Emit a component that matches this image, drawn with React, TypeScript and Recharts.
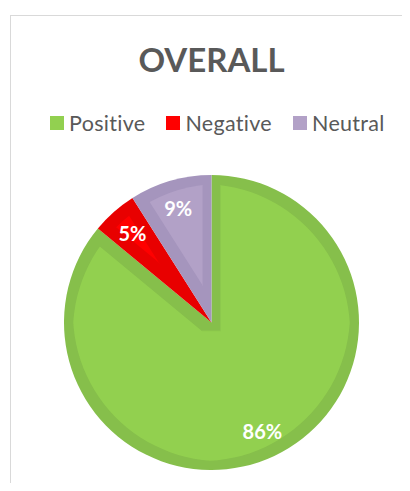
import React from "react";
import { PieChart, Pie, Cell } from "recharts";

const categories = ["Positive", "Negative", "Neutral"];
const values = [86, 5, 9];
const labels = ["86%", "5%", "9%"];
const fillColors = ["#92d050", "#ff0000", "#b2a1c7"];
const edgeColors = ["#86bf4c", "#e80000", "#a595bd"];
const title = "OVERALL";

const data = categories.map((name, i) => ({ name, value: values[i], label: labels[i] }));

const RAD = Math.PI / 180;
const FONT = "Lato, 'Noto Sans', sans-serif";

const renderLabel = (p: any) => {
  const r = p.outerRadius * 0.81;
  const x = p.cx + r * Math.cos(-p.midAngle * RAD);
  const y = p.cy + r * Math.sin(-p.midAngle * RAD);
  return (
    <text
      x={x}
      y={y}
      fill="#ffffff"
      textAnchor="middle"
      dominantBaseline="central"
      fontFamily={FONT}
      fontWeight={700}
      fontSize={20}
    >
      {p.payload.label}
    </text>
  );
};

export default function App() {
  return (
    <div style={{ position: "relative", width: 394, height: 475, overflow: "hidden" }}>
      <svg width={0} height={0} style={{ position: "absolute" }}>
        <defs>
          {fillColors.map((c, i) => (
            <filter key={i} id={`inner${i}`} x="-10%" y="-10%" width="120%" height="120%">
              <feMorphology in="SourceAlpha" operator="erode" radius={9} result="er" />
              <feFlood floodColor={c} result="fl" />
              <feComposite in="fl" in2="er" operator="in" result="inner" />
              <feMerge>
                <feMergeNode in="SourceGraphic" />
                <feMergeNode in="inner" />
              </feMerge>
            </filter>
          ))}
        </defs>
      </svg>
      <div
        style={{
          position: "absolute",
          left: 2,
          top: 7,
          width: 600,
          height: 700,
          border: "1px solid #d9d9d9",
          boxSizing: "border-box",
        }}
      />
      <div
        style={{
          position: "absolute",
          left: 0,
          top: 31,
          width: 407,
          textAlign: "center",
          fontFamily: FONT,
          fontWeight: 700,
          fontSize: 33,
          color: "#595959",
          lineHeight: "40px",
        }}
      >
        {title}
      </div>
      <div
        style={{
          position: "absolute",
          left: 42,
          top: 101,
          display: "flex",
          alignItems: "center",
          fontFamily: FONT,
          fontSize: 21.5,
          letterSpacing: 0.3,
          color: "#595959",
          lineHeight: "28px",
        }}
      >
        {categories.map((c, i) => (
          <div key={c} style={{ display: "flex", alignItems: "center", marginRight: 21 }}>
            <span style={{ display: "inline-block", width: 14, height: 14, background: fillColors[i], marginRight: 5 }} />
            <span>{c}</span>
          </div>
        ))}
      </div>
      <div style={{ position: "absolute", left: 0, top: 0 }}>
        <PieChart width={394} height={475}>
          <Pie
            data={data}
            dataKey="value"
            nameKey="name"
            cx={198.5}
            cy={309.5}
            outerRadius={147.5}
            startAngle={90}
            endAngle={-270}
            stroke="none"
            label={renderLabel}
            labelLine={false}
            isAnimationActive={false}
          >
            {data.map((d, i) => (
              <Cell key={d.name} fill={edgeColors[i]} filter={`url(#inner${i})`} />
            ))}
          </Pie>
        </PieChart>
      </div>
    </div>
  );
}
